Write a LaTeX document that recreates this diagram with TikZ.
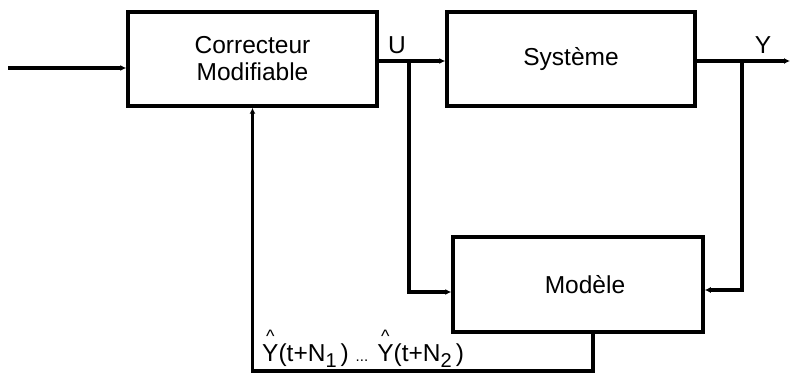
\documentclass[tikz,border=0pt]{standalone}
\usepackage{fontspec}
\setmainfont{Liberation Sans}
\usetikzlibrary{arrows.meta}
\newcommand\yhat{\ooalign{Y\cr\hidewidth\raisebox{19pt}{\fontsize{18}{18}\selectfont\textasciicircum}\hidewidth\cr}}
\newcommand\lowsub[1]{\raisebox{-6pt}{\fontsize{20}{20}\selectfont #1}}
\tikzset{
  blk/.style={draw, line width=3.5pt, rectangle, inner sep=0pt, align=center,
    font=\fontsize{24.5}{27}\selectfont},
  conn/.style={line width=3.5pt, -{Latex[length=6pt,width=6pt]}},
  wire/.style={line width=3.5pt},
  lbl/.style={font=\fontsize{24.5}{27}\selectfont, inner sep=0pt}
}
\begin{document}
\begin{tikzpicture}[x=1pt,y=-1pt]
\useasboundingbox (0,0) rectangle (792,374);
\node[blk, minimum width=249pt, minimum height=94pt] (corr) at (252.5,59) {Correcteur\\Modifiable};
\node[blk, minimum width=248pt, minimum height=94pt] (sys) at (571,59) {Système};
\node[blk, minimum width=250pt, minimum height=95pt] (mod) at (578,284.5) {\hspace{14pt}Modèle};

\coordinate (in) at (8,68);
\coordinate (u) at (409,61);
\coordinate (y) at (742,61);
\coordinate (out) at (790,61);
\coordinate (fb) at (593,371);

\draw[conn] (in) -- (in -| corr.west);
\draw[conn] (u -| corr.east) -- (sys.west |- u);
\draw[conn] (u) |- ([yshift=-7.5pt]mod.west);
\draw[wire] (y -| sys.east) -- (y);
\draw[conn] (y) -- (out);
\draw[conn] (y) |- ([yshift=-5.5pt]mod.east);
\draw[conn] (mod.south -| fb) -- (fb) -| (corr.south);

\node[lbl] (lu) at (397,45) {U};
\node[lbl] (ly) at (763,45) {Y};
\node[lbl, anchor=base west] (lyh) at (262,361)
  {\yhat(t+N\lowsub{1}\,) {\fontsize{15}{15}\selectfont...} \yhat(t+N\lowsub{2}\,)};
\end{tikzpicture}
\end{document}
